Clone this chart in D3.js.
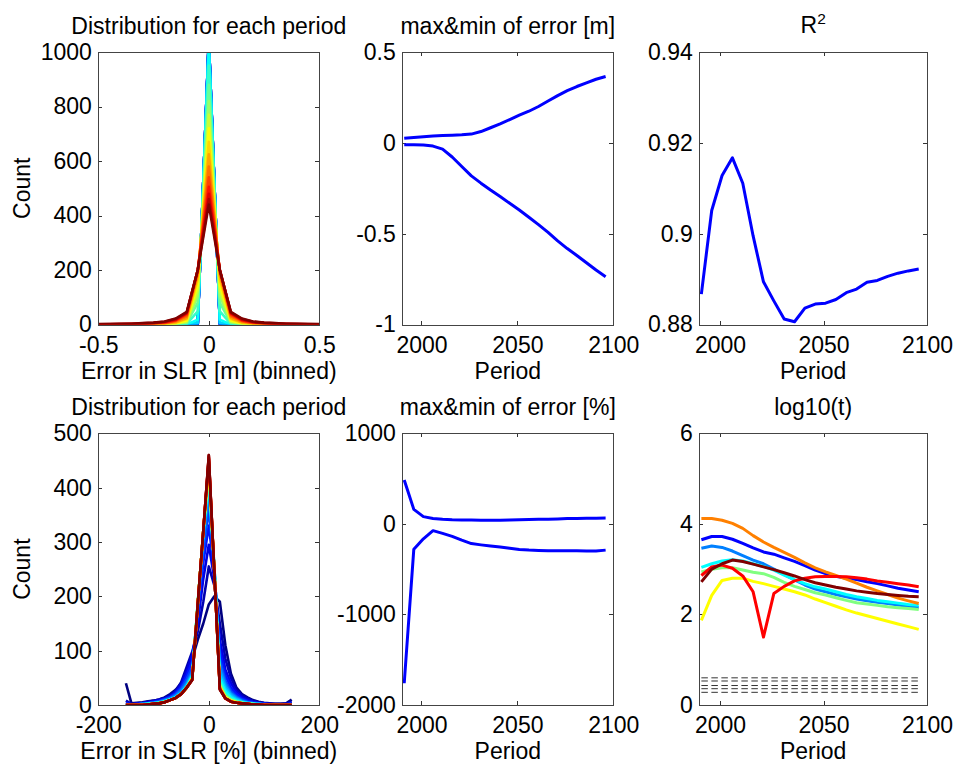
<!DOCTYPE html>
<html>
<head>
<meta charset="utf-8">
<script src="https://cdn.jsdelivr.net/npm/d3@7"></script>
<style>
body { margin: 0; background: #fff; }
text { font-family: "Liberation Sans", Arial, sans-serif; }
</style>
</head>
<body>
<svg width="958" height="767"></svg>
<script>
// ============================== DATA ==============================
const periods = [1991, 1996, 2001, 2006, 2011, 2016, 2021, 2026, 2031, 2036, 2041,
                 2046, 2051, 2056, 2061, 2066, 2071, 2076, 2081, 2086, 2091, 2096];

// histogram bins
const binsM = [-0.5, -0.45, -0.4, -0.35, -0.3, -0.25, -0.2, -0.15, -0.1, -0.05, 0,
               0.05, 0.1, 0.15, 0.2, 0.25, 0.3, 0.35, 0.4, 0.45, 0.5];
const binsPct = [-150, -140, -130, -120, -110, -100, -90, -80, -70, -60, -50, -40, -30, -20, -10, 0,
                 10, 20, 30, 40, 50, 60, 70, 80, 90, 100, 110, 120, 130, 140, 150];

// counts per period, error in m
const histM = [
  [0,0,0,0,0,0,0,0,0,0,1050,0,0,0,0,0,0,0,0,0,0],
  [0,0,0,0,0,0,0,0,0,0,1050,0,0,0,0,0,0,0,0,0,0],
  [0,0,0,0,0,0,0,0,0,0,1050,0,0,0,0,0,0,0,0,0,0],
  [0,0,0,0,0,0,0,0,0,1,1048,1,0,0,0,0,0,0,0,0,0],
  [0,0,0,0,0,0,0,0,0,2,1046,2,0,0,0,0,0,0,0,0,0],
  [0,0,0,0,0,0,0,0,0,3,1044,3,0,0,0,0,0,0,0,0,0],
  [0,0,0,0,0,0,0,0,0,4,1042,4,0,0,0,0,0,0,0,0,0],
  [0,0,0,0,0,0,0,0,0,6,1038,6,0,0,0,0,0,0,0,0,0],
  [0,0,0,0,0,0,0,0,0,18,1014,18,0,0,0,0,0,0,0,0,0],
  [0,0,0,0,0,0,0,0,2,48,950,48,2,0,0,0,0,0,0,0,0],
  [0,0,0,0,0,0,0,0,5,80,880,80,5,0,0,0,0,0,0,0,0],
  [0,0,0,0,0,0,0,1,8,105,820,105,8,1,0,0,0,0,0,0,0],
  [0,0,0,0,0,0,0,3,12,125,770,125,12,3,0,0,0,0,0,0,0],
  [0,0,0,0,0,0,1,4,15,145,720,145,15,4,1,0,0,0,0,0,0],
  [0,0,0,0,0,1,2,6,20,165,670,165,20,6,2,1,0,0,0,0,0],
  [0,0,0,0,1,2,3,8,24,180,625,180,24,8,3,2,1,0,0,0,0],
  [0,0,0,1,1,3,5,12,30,190,580,190,30,12,5,3,1,1,0,0,0],
  [0,0,1,1,2,4,6,14,35,195,540,195,35,14,6,4,2,1,1,0,0],
  [0,1,1,2,3,5,8,16,40,200,505,200,40,16,8,5,3,2,1,1,0],
  [1,1,2,2,3,5,9,18,42,200,480,200,42,18,9,5,3,2,2,1,1],
  [1,2,2,3,4,6,10,20,44,200,460,200,44,20,10,6,4,3,2,2,1],
  [2,2,3,3,5,7,11,22,46,200,440,200,46,22,11,7,5,3,3,2,2]
];

// counts per period, error in %
const histPct = [
  [40,3,4,5,7,8,10,14,20,28,40,60,85,120,150,185,200,190,110,58,32,20,14,9,6,4,3,2,2,3,10],
  [8,2,3,4,6,8,10,13,18,26,42,70,98,135,190,255,220,150,85,50,28,18,12,8,5,3,2,2,2,2,6],
  [5,1,2,3,5,7,9,12,16,24,38,62,92,150,232,295,232,120,65,40,24,15,10,6,4,3,2,1,1,2,4],
  [3,1,2,3,4,6,8,11,15,22,34,55,80,162,262,330,245,100,55,32,20,12,8,5,3,2,1,1,1,1,3],
  [2,1,1,2,3,5,7,10,14,20,30,48,70,172,282,360,250,85,45,26,16,10,6,4,3,2,1,1,1,1,2],
  [1,1,1,2,3,4,6,9,12,18,27,42,62,180,300,385,255,75,40,22,14,8,5,3,2,1,1,1,1,1,1],
  [1,0,1,2,3,4,5,8,11,16,24,38,58,185,310,400,258,65,35,20,12,7,4,3,2,1,1,0,0,1,1],
  [1,0,1,1,2,3,5,7,10,15,22,35,55,188,315,410,255,55,30,17,10,6,4,2,2,1,1,0,0,0,1],
  [0,0,1,1,2,3,4,7,10,14,21,34,53,188,318,420,252,48,25,14,8,5,3,2,1,1,0,0,0,0,1],
  [0,0,0,1,2,3,4,6,9,13,20,33,50,188,318,425,250,42,20,11,7,4,3,2,1,1,0,0,0,0,0],
  [0,0,0,1,1,2,4,6,9,13,20,32,50,187,319,430,249,38,18,10,6,4,2,2,1,1,0,0,0,0,0],
  [0,0,0,1,1,2,3,6,9,13,20,32,49,187,320,435,248,36,16,9,6,4,2,1,1,1,0,0,0,0,0],
  [0,0,0,0,1,2,3,5,9,13,20,32,49,186,320,440,248,34,15,8,5,3,2,1,1,1,0,0,0,0,0],
  [0,0,0,0,1,2,3,5,9,13,20,32,48,186,320,444,247,33,14,8,5,3,2,1,1,0,0,0,0,0,0],
  [0,0,0,0,1,2,3,5,9,13,20,32,48,186,320,447,247,32,13,7,5,3,2,1,1,0,0,0,0,0,0],
  [0,0,0,0,1,2,3,5,9,13,20,32,48,185,320,450,246,31,13,7,4,3,2,1,1,0,0,0,0,0,0],
  [0,0,0,0,1,2,3,5,9,13,20,32,47,185,320,452,246,31,12,6,4,3,2,1,1,0,0,0,0,0,0],
  [0,0,0,0,1,2,3,5,9,13,20,32,47,185,320,454,246,30,12,6,4,3,2,1,1,0,0,0,0,0,0],
  [0,0,0,0,1,2,3,5,9,13,20,32,47,185,320,456,245,30,12,6,4,3,2,1,1,0,0,0,0,0,0],
  [0,0,0,0,1,2,3,5,9,13,20,32,46,185,320,458,245,29,12,6,4,3,2,1,1,0,0,0,0,0,0],
  [0,0,0,0,1,2,3,5,9,13,20,32,46,185,320,460,245,29,12,6,4,3,2,1,1,0,0,0,0,0,0],
  [0,0,0,0,1,2,3,5,9,13,20,32,46,185,320,460,245,28,12,6,4,3,2,1,1,0,0,0,0,0,0]
];

const errMax = [0.025, 0.030, 0.034, 0.037, 0.040, 0.042, 0.044, 0.048, 0.062, 0.083, 0.104,
                0.128, 0.152, 0.174, 0.200, 0.230, 0.260, 0.287, 0.310, 0.330, 0.350, 0.365];
const errMin = [-0.010, -0.010, -0.012, -0.018, -0.035, -0.078, -0.130, -0.182, -0.222, -0.260, -0.296,
                -0.333, -0.370, -0.410, -0.450, -0.493, -0.540, -0.582, -0.620, -0.660, -0.700, -0.737];

const r2 = [0.8867, 0.9051, 0.9128, 0.9167, 0.9111, 0.8995, 0.8894, 0.8852, 0.8812, 0.8806, 0.8836,
            0.8845, 0.8847, 0.8855, 0.8870, 0.8878, 0.8893, 0.8897, 0.8906, 0.8913, 0.8918, 0.8922];

const errMaxPct = [485, 160, 80, 60, 50, 45, 44, 42, 40, 40, 40, 42, 45, 48, 50, 52, 55, 58, 60, 62, 63, 65];
const errMinPct = [-1760, -280, -165, -75, -105, -138, -180, -218, -232, -245, -256,
                   -270, -282, -289, -293, -296, -297, -298, -298, -300, -300, -290];

// log10(t), one series per coefficient
const logT1 = [3.65, 3.72, 3.72, 3.66, 3.57, 3.47, 3.38, 3.33, 3.25, 3.17, 3.08, 2.98, 2.90, 2.84, 2.80, 2.77, 2.72, 2.68, 2.63, 2.58, 2.54, 2.50];
const logT2 = [3.46, 3.51, 3.48, 3.40, 3.30, 3.20, 3.12, 3.00, 2.88, 2.76, 2.65, 2.56, 2.50, 2.44, 2.39, 2.34, 2.30, 2.27, 2.24, 2.21, 2.18, 2.15];
const logT3 = [3.04, 3.12, 3.18, 3.21, 3.18, 3.12, 3.06, 2.98, 2.87, 2.77, 2.68, 2.61, 2.56, 2.50, 2.44, 2.39, 2.35, 2.31, 2.28, 2.25, 2.22, 2.20];
const logT4 = [2.94, 3.00, 3.03, 3.03, 2.98, 2.93, 2.90, 2.82, 2.71, 2.62, 2.55, 2.48, 2.43, 2.37, 2.31, 2.26, 2.23, 2.20, 2.17, 2.15, 2.13, 2.11];
const logT5 = [1.87, 2.42, 2.75, 2.80, 2.80, 2.73, 2.68, 2.62, 2.56, 2.50, 2.43, 2.34, 2.26, 2.18, 2.10, 2.03, 1.97, 1.91, 1.85, 1.79, 1.73, 1.67];
const logT6 = [4.12, 4.12, 4.08, 4.01, 3.90, 3.74, 3.60, 3.48, 3.37, 3.26, 3.14, 3.03, 2.94, 2.86, 2.78, 2.69, 2.60, 2.52, 2.44, 2.36, 2.30, 2.24];
const logT7 = [2.86, 3.05, 3.09, 3.02, 2.85, 2.50, 1.50, 2.46, 2.62, 2.74, 2.80, 2.83, 2.84, 2.84, 2.83, 2.81, 2.78, 2.74, 2.71, 2.68, 2.65, 2.61];
const logT8 = [2.72, 3.00, 3.12, 3.20, 3.17, 3.11, 3.05, 2.99, 2.92, 2.85, 2.77, 2.70, 2.65, 2.60, 2.56, 2.52, 2.49, 2.46, 2.44, 2.42, 2.40, 2.39];
const logTColors = ["#0000ff", "#0080ff", "#00ffff", "#80ff80", "#ffff00", "#ff8000", "#ff0000", "#800000"];
const critLevels = [0.28, 0.36, 0.43, 0.53, 0.60];

// ticks
const yearTicks = [2000, 2050, 2100];

// ============================== LAYOUT ==============================
const svg = d3.select("svg");
const FONT = 23;
const TICK = 4;
const cols = [[98.3, 319.3], [402.3, 613.3], [699.3, 927]];
const rows = [[52, 324.5], [433.3, 705]];
const jet = d3.scaleLinear()
  .domain([0, 0.125, 0.375, 0.625, 0.875, 1])
  .range(["#000080", "#0000ff", "#00ffff", "#ffff00", "#ff0000", "#800000"]);
var clipCount = 0;

function makeAxes(c, r, xDom, yDom, xTicks, yTicks) {
  const b = { x0: cols[c][0], x1: cols[c][1], y0: rows[r][0], y1: rows[r][1] };
  const x = d3.scaleLinear().domain(xDom).range([b.x0, b.x1]);
  const y = d3.scaleLinear().domain(yDom).range([b.y1, b.y0]);
  const g = svg.append("g");
  const id = "clip" + (clipCount++);
  svg.append("clipPath").attr("id", id).append("rect")
    .attr("x", b.x0).attr("y", b.y0).attr("width", b.x1 - b.x0).attr("height", b.y1 - b.y0);

  const fmt = d => String(d);
  const axes = [
    [d3.axisBottom(x).tickValues(xTicks).tickFormat(fmt).tickPadding(11.8), 0, b.y1],
    [d3.axisTop(x).tickValues(xTicks).tickFormat(""), 0, b.y0],
    [d3.axisLeft(y).tickValues(yTicks).tickFormat(fmt).tickPadding(6.5), b.x0, 0],
    [d3.axisRight(y).tickValues(yTicks).tickFormat(""), b.x1, 0]
  ];
  axes.forEach(a => {
    const ag = g.append("g")
      .attr("transform", "translate(" + a[1] + "," + a[2] + ")")
      .call(a[0].tickSizeInner(-TICK).tickSizeOuter(0));
    ag.select(".domain").remove();
    ag.attr("font-size", FONT).attr("font-family", null);
    ag.selectAll("line").attr("stroke", "#333").attr("shape-rendering", "crispEdges");
    ag.selectAll("text").attr("fill", "#000");
  });

  const plot = g.append("g").attr("clip-path", "url(#" + id + ")");
  return { x, y, g, b, plot };
}

function frame(p) {
  p.g.append("rect")
    .attr("x", Math.round(p.b.x0) + 0.5).attr("y", Math.round(p.b.y0) + 0.5)
    .attr("width", Math.round(p.b.x1 - p.b.x0)).attr("height", Math.round(p.b.y1 - p.b.y0))
    .attr("fill", "none").attr("stroke", "#444").attr("stroke-width", 1);
}

function labels(p, title, xlabel, ylabel) {
  const cx = (p.b.x0 + p.b.x1) / 2;
  if (title) {
    p.g.append("text").attr("x", cx).attr("y", p.b.y0 - 18.5)
      .attr("text-anchor", "middle").attr("font-size", FONT).text(title);
  }
  p.g.append("text").attr("x", cx).attr("y", p.b.y1 + 54)
    .attr("text-anchor", "middle").attr("font-size", FONT).text(xlabel);
  if (ylabel) {
    const cy = (p.b.y0 + p.b.y1) / 2;
    p.g.append("text").attr("transform", "translate(30," + cy + ") rotate(-90)")
      .attr("text-anchor", "middle").attr("font-size", FONT).text(ylabel);
  }
}

function drawLine(p, xs, ys, color, w) {
  const line = d3.line().x((d, i) => p.x(xs[i])).y(d => p.y(d));
  p.plot.append("path").datum(ys)
    .attr("d", line).attr("fill", "none").attr("stroke", color)
    .attr("stroke-width", w).attr("stroke-linejoin", "round");
}

// ============================== PANEL 1: distribution [m] ==============================
const p1 = makeAxes(0, 0, [-0.5, 0.5], [0, 1000], [-0.5, 0, 0.5], [0, 200, 400, 600, 800, 1000]);
histM.forEach((h, k) => drawLine(p1, binsM, h, jet(k / (histM.length - 1)), 2.6));
frame(p1);
labels(p1, "Distribution for each period", "Error in SLR [m] (binned)", "Count");

// ============================== PANEL 2: max&min [m] ==============================
const p2 = makeAxes(1, 0, [1990, 2100], [-1, 0.5], yearTicks, [-1, -0.5, 0, 0.5]);
drawLine(p2, periods, errMax, "#0000ff", 3);
drawLine(p2, periods, errMin, "#0000ff", 3);
frame(p2);
labels(p2, "max&min of error [m]", "Period", null);

// ============================== PANEL 3: R^2 ==============================
const p3 = makeAxes(2, 0, [1990, 2100], [0.88, 0.94], yearTicks, [0.88, 0.9, 0.92, 0.94]);
drawLine(p3, periods, r2, "#0000ff", 3);
frame(p3);
labels(p3, null, "Period", null);
const r2t = p3.g.append("text").attr("x", (p3.b.x0 + p3.b.x1) / 2).attr("y", p3.b.y0 - 19.5)
  .attr("text-anchor", "middle").attr("font-size", FONT);
r2t.append("tspan").text("R");
r2t.append("tspan").attr("dy", -9).attr("font-size", 15.5).text("2");

// ============================== PANEL 4: distribution [%] ==============================
const p4 = makeAxes(0, 1, [-200, 200], [0, 500], [-200, 0, 200], [0, 100, 200, 300, 400, 500]);
histPct.forEach((h, k) => drawLine(p4, binsPct, h, jet(k / (histPct.length - 1)), 2.6));
frame(p4);
labels(p4, "Distribution for each period", "Error in SLR [%] (binned)", "Count");

// ============================== PANEL 5: max&min [%] ==============================
const p5 = makeAxes(1, 1, [1990, 2100], [-2000, 1000], yearTicks, [-2000, -1000, 0, 1000]);
drawLine(p5, periods, errMaxPct, "#0000ff", 3);
drawLine(p5, periods, errMinPct, "#0000ff", 3);
frame(p5);
labels(p5, "max&min of error [%]", "Period", null);

// ============================== PANEL 6: log10(t) ==============================
const p6 = makeAxes(2, 1, [1990, 2100], [0, 6], yearTicks, [0, 2, 4, 6]);
critLevels.forEach(v => {
  p6.plot.append("line")
    .attr("x1", p6.x(periods[0])).attr("x2", p6.x(periods[periods.length - 1]))
    .attr("y1", p6.y(v)).attr("y2", p6.y(v))
    .attr("stroke", "#333").attr("stroke-width", 1).attr("stroke-dasharray", "6.5,3.5");
});
[logT1, logT2, logT3, logT4, logT5, logT6, logT7, logT8].forEach((s, i) =>
  drawLine(p6, periods, s, logTColors[i], 3));
frame(p6);
labels(p6, "log10(t)", "Period", null);
</script>
</body>
</html>
